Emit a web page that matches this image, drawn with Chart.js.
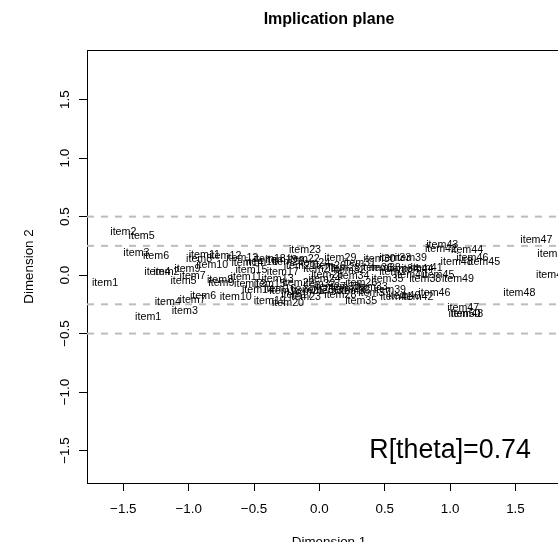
<!DOCTYPE html>
<html><head><meta charset="utf-8">
<script src="https://cdn.jsdelivr.net/npm/chart.js@4.4.0/dist/chart.umd.min.js"></script>
<style>html,body{margin:0;padding:0;background:#fff;overflow:hidden;}canvas{display:block;}</style>
</head><body>
<canvas id="c" width="600" height="542" style="width:600px;height:542px"></canvas>
<script>
const itemLabels = [
 'item2','item5','item3','item6','item11','item12','item8','item10','item1','item4',
 'item2','item9','item7','item5','item8','item9','item6','item10','item4','item7',
 'item3','item1','item14','item13','item15','item16','item17','item18','item19','item20',
 'item22','item21','item13','item11','item12','item14','item15','item16','item18','item21',
 'item19','item20','item23','item17','item22','item23','item29','item24','item25','item26',
 'item27','item28','item30','item31','item32','item33','item34','item36','item37','item38',
 'item39','item34','item41','item40','item38','item35','item26','item27','item28','item25',
 'item29','item31','item32','item30','item33','item36','item37','item39','item35','item41',
 'item40','item42','item43','item42','item44','item46','item45','item48','item45','item49',
 'item46','item47','item50','item48','item47','item50','item49','item48','item44','item24'
];
const itemX = [
 -1.50,-1.36,-1.40,-1.25,-0.88,-0.72,-0.92,-0.82,-1.64,-1.24,
 -1.17,-1.01,-0.97,-1.04,-0.76,-0.75,-0.89,-0.64,-1.16,-0.97,
 -1.03,-1.31,-0.55,-0.59,-0.52,-0.44,-0.28,-0.38,-0.29,-0.24,
 -0.12,-0.15,-0.32,-0.56,-0.53,-0.47,-0.38,-0.30,-0.26,-0.09,
 -0.38,-0.24,-0.11,-0.17,-0.16,-0.11,0.16,-0.04,0.06,0.08,
 0.00,0.19,0.46,0.31,0.23,0.58,0.26,0.44,0.58,0.50,
 0.70,0.64,0.82,0.70,0.81,0.52,0.32,0.08,0.16,-0.01,
 0.23,0.10,0.00,0.19,0.40,0.27,0.42,0.54,0.32,0.59,
 0.65,0.75,0.94,0.93,1.13,1.17,1.26,1.05,0.91,1.06,
 0.88,1.10,1.11,1.13,1.66,1.79,1.78,1.53,0.75,0.04
];
const itemY = [
 0.37,0.33,0.19,0.16,0.17,0.16,0.14,0.09,-0.07,0.03,
 0.03,0.05,-0.01,-0.05,-0.04,-0.07,-0.18,-0.19,-0.23,-0.21,
 -0.31,-0.36,0.10,0.15,0.04,0.11,0.03,0.14,0.13,0.11,
 0.14,0.08,-0.03,-0.02,-0.08,-0.13,-0.08,-0.12,-0.14,-0.14,
 -0.22,-0.24,-0.19,-0.17,-0.07,0.21,0.15,0.10,0.00,0.08,
 0.05,0.06,0.14,0.10,0.04,0.15,-0.01,0.06,0.03,0.06,
 0.15,0.05,0.06,0.00,-0.03,-0.03,-0.07,-0.10,-0.17,-0.13,
 -0.12,-0.14,-0.08,-0.10,-0.10,-0.14,-0.15,-0.13,-0.22,-0.19,
 -0.18,-0.19,0.26,0.22,0.21,0.15,0.11,0.11,0.00,-0.03,
 -0.15,-0.28,-0.33,-0.33,0.30,0.18,0.00,-0.15,0.05,-0.03
];
const refLines = [0.5, 0.25, -0.25, -0.5];
const tickValues = [-1.5, -1.0, -0.5, 0.0, 0.5, 1.0, 1.5];
const axisMin = -1.778, axisMax = 1.925;
const annotationText = 'R[theta]=0.74';
const annotationX = [1.0];
const annotationY = [-1.5];
const titleText = 'Implication plane';
const xTitle = 'Dimension 1';
const yTitle = 'Dimension 2';

const FONT = '"Liberation Sans", Arial, Helvetica, sans-serif';
const fmt = v => Number(v).toFixed(1).replace('-', '\u2212');

const overlay = {
  id: 'overlay',
  afterDatasetsDraw(chart) {
    const ctx = chart.ctx, xs = chart.scales.x, ys = chart.scales.y;
    ctx.save();
    ctx.fillStyle = '#000';
    ctx.textAlign = 'center';
    ctx.textBaseline = 'middle';
    ctx.font = '10.7px ' + FONT;
    const meta = chart.getDatasetMeta(0);
    meta.data.forEach((pt, i) => ctx.fillText(itemLabels[i], pt.x, pt.y));
    ctx.font = '26.8px ' + FONT;
    ctx.fillText(annotationText, xs.getPixelForValue(annotationX[0]), ys.getPixelForValue(annotationY[0]));
    ctx.restore();
  },
  afterDraw(chart) {
    const ctx = chart.ctx, ca = chart.chartArea, ys = chart.scales.y;
    ctx.save();
    ctx.strokeStyle = '#000';
    ctx.lineWidth = 1;
    ctx.beginPath();
    ctx.moveTo(ca.left + 0.5, ca.top + 0.5);
    ctx.lineTo(ca.right + 0.5, ca.top + 0.5);
    ctx.lineTo(ca.right + 0.5, ca.bottom + 0.5);
    ctx.stroke();
    ctx.fillStyle = '#000';
    ctx.textAlign = 'center';
    ctx.textBaseline = 'middle';
    ctx.font = '13.4px ' + FONT;
    ys.ticks.forEach(t => {
      const py = ys.getPixelForValue(t.value);
      ctx.save();
      ctx.translate(65, py);
      ctx.rotate(-Math.PI / 2);
      ctx.fillText(fmt(t.value), 0, 0);
      ctx.restore();
    });
    ctx.save();
    ctx.translate(29.5, (ca.top + ca.bottom) / 2);
    ctx.rotate(-Math.PI / 2);
    ctx.fillText(yTitle, 0, 0);
    ctx.restore();
    ctx.textBaseline = 'alphabetic';
    ctx.fillText(xTitle, (ca.left + ca.right) / 2, 546);
    ctx.font = 'bold 16px ' + FONT;
    ctx.fillText(titleText, (ca.left + ca.right) / 2, 24);
    ctx.restore();
  }
};

const datasets = [{
  type: 'scatter',
  data: itemX.map((x, i) => ({ x: x, y: itemY[i] })),
  pointRadius: 0, pointHoverRadius: 0, showLine: false
}];
refLines.forEach(v => datasets.push({
  type: 'line',
  data: [{ x: axisMin, y: v }, { x: axisMax, y: v }],
  borderColor: '#bdbdbd', borderWidth: 2, borderDash: [7, 7],
  pointRadius: 0, fill: false, tension: 0
}));

const axisCommon = {
  type: 'linear', min: axisMin, max: axisMax,
  afterBuildTicks: s => { s.ticks = tickValues.map(v => ({ value: v })); },
  grid: { drawOnChartArea: false, drawTicks: true, tickLength: 8, color: '#000', lineWidth: 1 },
  border: { display: true, color: '#000', width: 1 }
};

new Chart(document.getElementById('c'), {
  type: 'scatter',
  data: { datasets: datasets },
  options: {
    responsive: false, animation: false, devicePixelRatio: 1,
    layout: { padding: { top: 50, left: 0, right: 29, bottom: 0 } },
    plugins: { legend: { display: false }, tooltip: { enabled: false }, title: { display: false } },
    scales: {
      x: Object.assign({}, axisCommon, {
        position: 'bottom',
        ticks: { callback: v => fmt(v), font: { family: FONT, size: 13.4 }, color: '#000', padding: 10, maxRotation: 0, autoSkip: false, includeBounds: false },
        afterFit: s => { s.height = 59; }
      }),
      y: Object.assign({}, axisCommon, {
        position: 'left',
        ticks: { display: false, includeBounds: false },
        afterFit: s => { s.width = 87; }
      })
    }
  },
  plugins: [overlay]
});
</script>
</body></html>
